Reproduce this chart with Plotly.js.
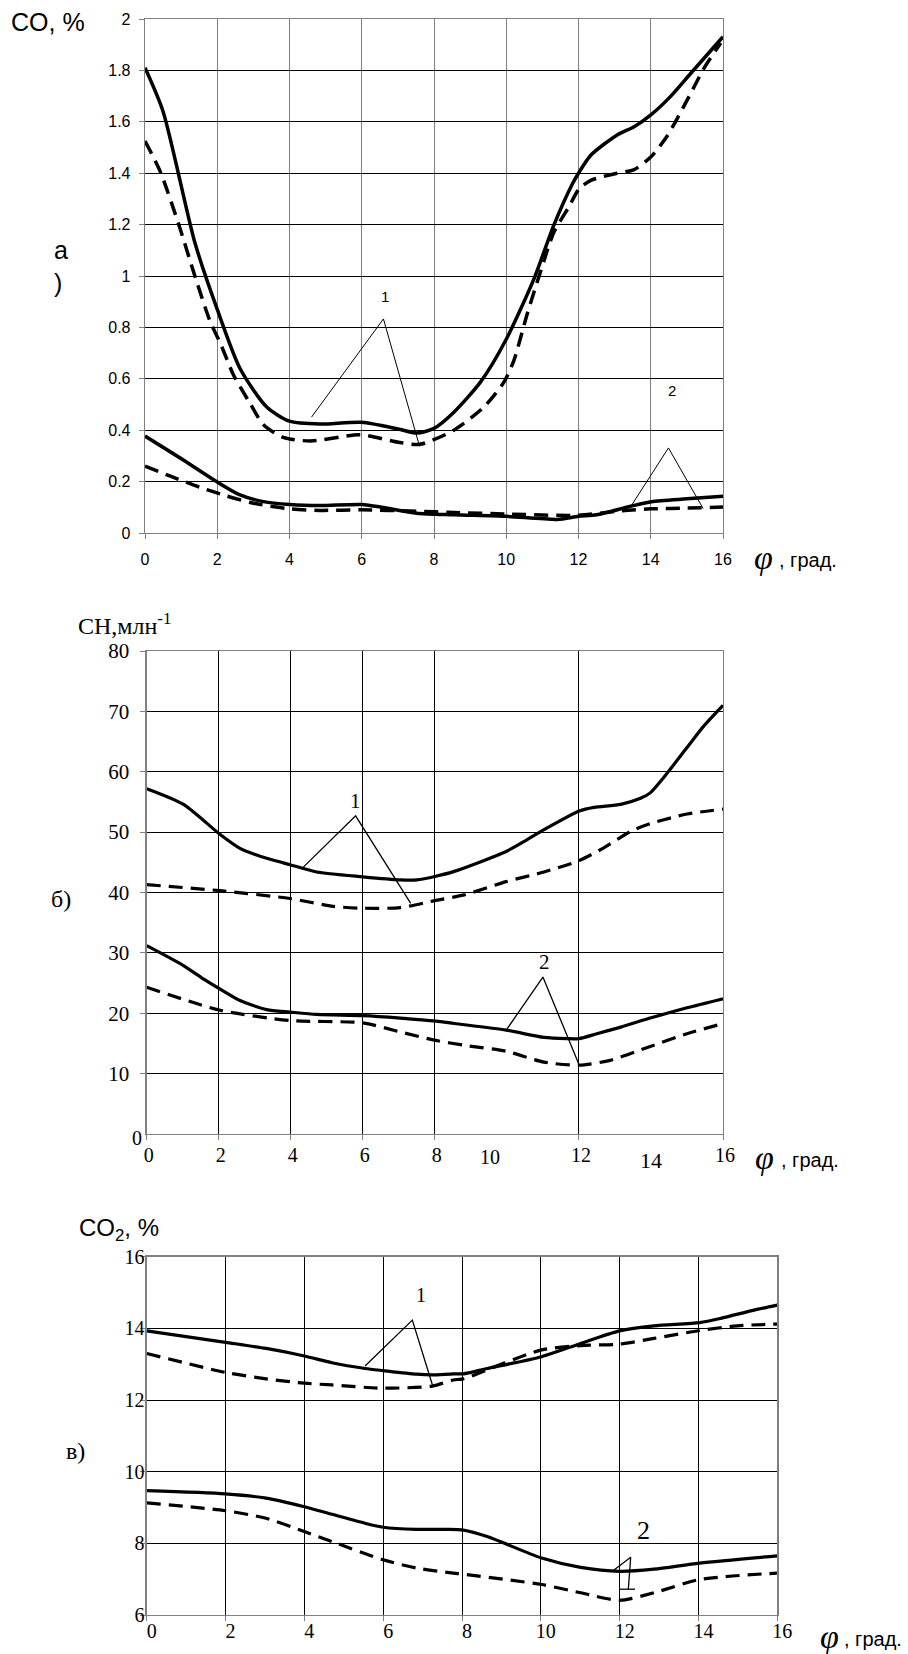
<!DOCTYPE html>
<html>
<head>
<meta charset="utf-8">
<script src="https://cdn.plot.ly/plotly-3.0.1.min.js"></script>
<style>html,body{margin:0;padding:0;background:#fff;}#chart{width:908px;height:1654px;}</style>
</head>
<body>
<div id="chart"></div>
<script>
// ---------- Chart а) CO, % ----------
const coSolid1X = [0, 0.5, 1.38, 2, 2.63, 3.37, 4.0, 4.84, 6.0, 7.0, 7.52, 8.0, 8.55, 9.29, 10.0, 10.77, 11.32, 11.83, 12.0, 12.34, 13.07, 13.54, 14.02, 14.55, 15.11, 16];
const coSolid1Y = [1.81, 1.64, 1.13, 0.87, 0.64, 0.49, 0.435, 0.424, 0.431, 0.405, 0.389, 0.407, 0.47, 0.588, 0.754, 0.99, 1.199, 1.358, 1.40, 1.47, 1.549, 1.581, 1.629, 1.699, 1.789, 1.931];
const coDash1X = [0, 0.42, 0.97, 1.34, 1.80, 2.08, 2.45, 2.91, 3.28, 3.83, 4.57, 5.95, 7.06, 7.61, 8.55, 9.38, 9.94, 10.21, 10.58, 10.95, 11.32, 11.73, 12.01, 12.34, 13.07, 13.54, 14.0, 14.46, 15.01, 15.48, 15.94];
const coDash1Y = [1.525, 1.407, 1.185, 1.018, 0.824, 0.740, 0.615, 0.504, 0.421, 0.372, 0.358, 0.382, 0.352, 0.345, 0.40, 0.49, 0.588, 0.671, 0.852, 1.018, 1.171, 1.268, 1.338, 1.372, 1.40, 1.414, 1.463, 1.546, 1.685, 1.81, 1.907];
const coSolid2X = [0, 1.06, 1.98, 2.63, 3.28, 4.01, 4.84, 6.0, 6.6, 7.52, 8.55, 10.0, 11.41, 12.0, 12.5, 13.44, 14.02, 15.0, 16];
const coSolid2Y = [0.377, 0.284, 0.20, 0.148, 0.122, 0.111, 0.107, 0.111, 0.099, 0.077, 0.071, 0.065, 0.053, 0.065, 0.071, 0.104, 0.122, 0.133, 0.143];
const coDash2X = [0, 0.74, 1.52, 2.26, 3.0, 4.01, 4.84, 6.0, 7.52, 8.55, 10.0, 12.0, 13.2, 14.0, 15.0, 16];
const coDash2Y = [0.26, 0.219, 0.178, 0.144, 0.116, 0.094, 0.088, 0.09, 0.085, 0.08, 0.074, 0.069, 0.087, 0.094, 0.097, 0.101];
const coLead1X = [4.61, 6.6, 7.6], coLead1Y = [0.451, 0.833, 0.337];
const coLead2X = [13.47, 14.49, 15.45], coLead2Y = [0.108, 0.331, 0.095];
const coLabel1 = [6.64, 0.92], coLabel2 = [14.59, 0.553];
const coYTicks = [0, 0.2, 0.4, 0.6, 0.8, 1, 1.2, 1.4, 1.6, 1.8, 2];
const coYText = ['0', '0.2', '0.4', '0.6', '0.8', '1', '1.2', '1.4', '1.6', '1.8', '2'];

// ---------- Chart б) CH, млн-1 ----------
const chSolid1X = [0, 1.02, 2.04, 2.59, 3.15, 3.98, 4.72, 6.0, 7.04, 7.5, 8.03, 8.54, 9.98, 10.52, 11.03, 12.01, 12.42, 13.16, 13.71, 13.98, 14.36, 15.0, 15.47, 16];
const chSolid1Y = [57.2, 54.6, 49.6, 47.3, 46.0, 44.6, 43.4, 42.6, 42.1, 42.1, 42.7, 43.5, 46.8, 48.6, 50.4, 53.5, 54.1, 54.6, 55.6, 56.5, 59.1, 64.0, 67.6, 71.0];
const chDash1X = [0, 2.04, 3.98, 5.18, 6.0, 7.04, 8.03, 8.81, 9.98, 11.03, 12.01, 12.69, 13.43, 13.98, 15.0, 16];
const chDash1Y = [41.3, 40.3, 39.0, 37.7, 37.4, 37.5, 38.7, 39.6, 41.8, 43.4, 45.3, 47.4, 50.1, 51.4, 53.0, 53.8];
const chSolid2X = [0, 1.02, 1.57, 2.04, 2.59, 3.33, 3.98, 4.72, 6.0, 7.04, 8.03, 8.54, 9.98, 11.03, 11.66, 12.0, 12.5, 13.16, 13.98, 15.0, 16];
const chSolid2Y = [31.2, 27.9, 25.7, 24.0, 22.1, 20.6, 20.2, 19.8, 19.6, 19.2, 18.7, 18.3, 17.2, 16.0, 15.8, 15.8, 16.6, 17.7, 19.2, 20.9, 22.4];
const chDash2X = [0, 2.04, 3.98, 6.0, 7.04, 8.03, 8.81, 9.98, 11.03, 12.0, 12.87, 13.98, 15.0, 16];
const chDash2Y = [24.3, 20.5, 18.8, 18.4, 16.9, 15.5, 14.7, 13.7, 11.9, 11.4, 12.2, 14.5, 16.6, 18.3];
const chLead1X = [4.35, 5.80, 7.33], chLead1Y = [44.2, 52.7, 38.2];
const chLead2X = [9.98, 11.0, 12.01], chLead2Y = [17.2, 26.0, 11.4];
const chLabel1 = [5.79, 55.1], chLabel2 = [11.05, 28.5];
const chYTicks = [10, 20, 30, 40, 50, 60, 70, 80];
const chXTicks = [0, 2, 4, 6, 8, 12, 16];

// ---------- Chart в) CO2, % ----------
const c2Solid1X = [0, 2.0, 3.03, 4.0, 4.7, 5.54, 6.0, 6.84, 7.25, 7.78, 8.03, 8.64, 10.02, 11.01, 12.0, 12.87, 14.03, 14.57, 15.41, 16];
const c2Solid1Y = [13.93, 13.61, 13.44, 13.23, 13.04, 12.88, 12.82, 12.72, 12.70, 12.73, 12.73, 12.88, 13.21, 13.58, 13.93, 14.07, 14.16, 14.28, 14.51, 14.65];
const c2Dash1X = [0, 2.0, 3.03, 4.0, 4.7, 6.0, 7.25, 7.78, 8.03, 9.07, 10.02, 11.01, 12.0, 12.87, 14.03, 14.98, 16];
const c2Dash1Y = [13.30, 12.77, 12.59, 12.47, 12.42, 12.33, 12.39, 12.56, 12.59, 13.03, 13.40, 13.52, 13.56, 13.72, 13.94, 14.07, 14.12];
const c2Solid2X = [0, 2.0, 3.03, 4.0, 4.7, 5.54, 6.0, 6.84, 7.6, 8.03, 8.64, 10.02, 11.01, 12.0, 12.87, 14.03, 16];
const c2Solid2Y = [9.47, 9.38, 9.26, 9.02, 8.81, 8.56, 8.45, 8.39, 8.39, 8.37, 8.19, 7.59, 7.33, 7.22, 7.28, 7.45, 7.65];
const c2Dash2X = [0, 2.0, 3.03, 4.0, 4.7, 6.0, 6.84, 7.78, 8.03, 10.02, 11.01, 12.0, 12.87, 14.03, 16];
const c2Dash2Y = [9.13, 8.91, 8.70, 8.33, 8.05, 7.54, 7.31, 7.17, 7.14, 6.85, 6.62, 6.41, 6.62, 6.99, 7.17];
const c2Lead1X = [5.54, 6.74, 7.25], c2Lead1Y = [12.95, 14.23, 12.42];
const c2Lead2X = [11.84, 12.28, 12.22, null, 12.01, 12.39], c2Lead2Y = [7.24, 7.61, 6.72, null, 6.72, 6.72];
const c2Label1 = [6.96, 14.93], c2Label2 = [12.6, 8.37];
const c2YTicks = [6, 8, 10, 12, 14, 16];

const xTicks = [0, 2, 4, 6, 8, 10, 12, 14, 16];

const SANS = 'Liberation Sans, Arial, sans-serif';
const SERIF = 'Liberation Serif, Times New Roman, serif';
const W = 908, H = 1654;
const px = v => v / W, py = v => 1 - v / H;

function curve(x, y, ax, dashed, w) {
  return {x: x, y: y, xaxis: 'x' + ax, yaxis: 'y' + ax, type: 'scatter', mode: 'lines',
    line: {color: '#000', width: w, shape: 'spline', smoothing: 0.7, dash: dashed ? '14px,8px' : 'solid'},
    hoverinfo: 'skip', showlegend: false};
}
function lead(x, y, ax, w) {
  return {x: x, y: y, xaxis: 'x' + ax, yaxis: 'y' + ax, type: 'scatter', mode: 'lines',
    line: {color: '#000', width: w}, connectgaps: false, hoverinfo: 'skip', showlegend: false};
}
const a1 = '', a2 = '2', a3 = '3';
const data = [
  curve(coSolid1X, coSolid1Y, a1, false, 3.5), curve(coDash1X, coDash1Y, a1, true, 3.5),
  curve(coSolid2X, coSolid2Y, a1, false, 3.5), curve(coDash2X, coDash2Y, a1, true, 3.5),
  lead(coLead1X, coLead1Y, a1, 1), lead(coLead2X, coLead2Y, a1, 1),
  curve(chSolid1X, chSolid1Y, a2, false, 3.2), curve(chDash1X, chDash1Y, a2, true, 3.2),
  curve(chSolid2X, chSolid2Y, a2, false, 3.2), curve(chDash2X, chDash2Y, a2, true, 3.2),
  lead(chLead1X, chLead1Y, a2, 1.3), lead(chLead2X, chLead2Y, a2, 1.3),
  curve(c2Solid1X, c2Solid1Y, a3, false, 3.2), curve(c2Dash1X, c2Dash1Y, a3, true, 3.2),
  curve(c2Solid2X, c2Solid2Y, a3, false, 3.2), curve(c2Dash2X, c2Dash2Y, a3, true, 3.2),
  lead(c2Lead1X, c2Lead1Y, a3, 1.3), lead(c2Lead2X, c2Lead2Y, a3, 1.3)
];

function xax(dom, anchor, fontFam, fsize, tv, tt, standoff, shift, gridc) {
  return {domain: dom, anchor: anchor, range: [0, 16], tickvals: tv, ticktext: tt, tickmode: 'array',
    showgrid: true, gridcolor: gridc, gridwidth: 1, zeroline: false,
    showline: true, linecolor: '#808080', linewidth: 1.3, mirror: true,
    ticks: 'outside', ticklen: 5, tickcolor: '#808080', tickwidth: 1,
    ticklabelstandoff: standoff, ticklabelshift: shift,
    tickfont: {family: fontFam, size: fsize, color: '#000'}, fixedrange: true};
}
function yax(dom, anchor, range, fontFam, fsize, tv, tt, standoff, gridc) {
  return {domain: dom, anchor: anchor, range: range, tickvals: tv, ticktext: tt, tickmode: 'array',
    showgrid: true, gridcolor: gridc, gridwidth: 1, zeroline: false,
    showline: true, linecolor: '#808080', linewidth: 1.3, mirror: true,
    ticks: 'outside', ticklen: 5, tickcolor: '#808080', tickwidth: 1,
    ticklabelstandoff: standoff,
    tickfont: {family: fontFam, size: fsize, color: '#000'}, fixedrange: true};
}

function txt(x, y, text, fam, size, xanchor, extra) {
  return Object.assign({xref: 'paper', yref: 'paper', x: x, y: y, text: text, showarrow: false,
    xanchor: xanchor || 'left', yanchor: 'middle', align: 'left',
    font: {family: fam, size: size, color: '#000'}}, extra || {});
}
function dtxt(ax, pt, text, fam, size, extra) {
  return Object.assign({xref: 'x' + ax, yref: 'y' + ax, x: pt[0], y: pt[1], text: text, showarrow: false,
    xanchor: 'center', yanchor: 'middle', font: {family: fam, size: size, color: '#000'}}, extra || {});
}
const PHI = {family: SERIF, size: 34, color: '#000', style: 'italic'};

const annotations = [
  // chart а
  txt(px(9), py(22), 'CO, %', SANS, 25),
  txt(px(52), py(266), 'а<br>)', SANS, 25),
  dtxt(a1, coLabel1, '1', SANS, 15),
  dtxt(a1, coLabel2, '2', SANS, 15),
  txt(px(763), py(557), 'φ', SERIF, 34, 'center', {font: PHI}),
  txt(px(777), py(560), ', град.', SANS, 20),
  // chart б
  txt(px(76), py(624), 'CH,млн<sup>-1</sup>', SERIF, 24),
  txt(px(49), py(899), 'б)', SERIF, 24),
  dtxt(a2, chLabel1, '1', SERIF, 21),
  dtxt(a2, chLabel2, '2', SERIF, 21),
  dtxt(a2, [10, 0], '10', SERIF, 20, {yanchor: 'top', yshift: -10, xshift: -17}),
  dtxt(a2, [14, 0], '14', SERIF, 22, {yanchor: 'top', yshift: -12}),
  dtxt(a2, [0, 0], '0', SERIF, 20, {xanchor: 'right', xshift: -3, yshift: -4}),
  txt(px(764), py(1157), 'φ', SERIF, 34, 'center', {font: PHI}),
  txt(px(779), py(1160), ', град.', SANS, 20),
  // chart в
  txt(px(77), py(1229), 'CO<sub>2</sub>, %', SANS, 24),
  txt(px(64), py(1451), 'в)', SERIF, 24),
  dtxt(a3, c2Label1, '1', SERIF, 20),
  dtxt(a3, c2Label2, '2', SERIF, 26),
  txt(px(829), py(1636), 'φ', SERIF, 34, 'center', {font: PHI}),
  txt(px(842), py(1639), ', град.', SANS, 20)
];

const layout = {
  width: W, height: H, margin: {l: 0, r: 0, t: 0, b: 0},
  paper_bgcolor: '#fff', plot_bgcolor: '#fff', showlegend: false,
  xaxis: xax([px(145), px(723)], 'y', SANS, 16, xTicks, xTicks.map(String), 6, 0, '#808080'),
  yaxis: yax([py(533), py(19)], 'x', [0, 2], SANS, 16, coYTicks, coYText, 5, '#000'),
  xaxis2: xax([px(146.7), px(723)], 'y2', SERIF, 20, chXTicks, chXTicks.map(String), -2, 2, '#000'),
  yaxis2: yax([py(1134), py(651)], 'x2', [0, 80], SERIF, 21, chYTicks, chYTicks.map(String), 7, '#000'),
  xaxis3: xax([px(146.7), px(777.3)], 'y3', SERIF, 20, xTicks, xTicks.map(String), -7, 5, '#000'),
  yaxis3: yax([py(1615), py(1256.7)], 'x3', [6, 16], SERIF, 20, c2YTicks, c2YTicks.map(String), -8, '#000'),
  annotations: annotations
};

Plotly.newPlot('chart', data, layout, {displayModeBar: false, staticPlot: true});
</script>
</body>
</html>
